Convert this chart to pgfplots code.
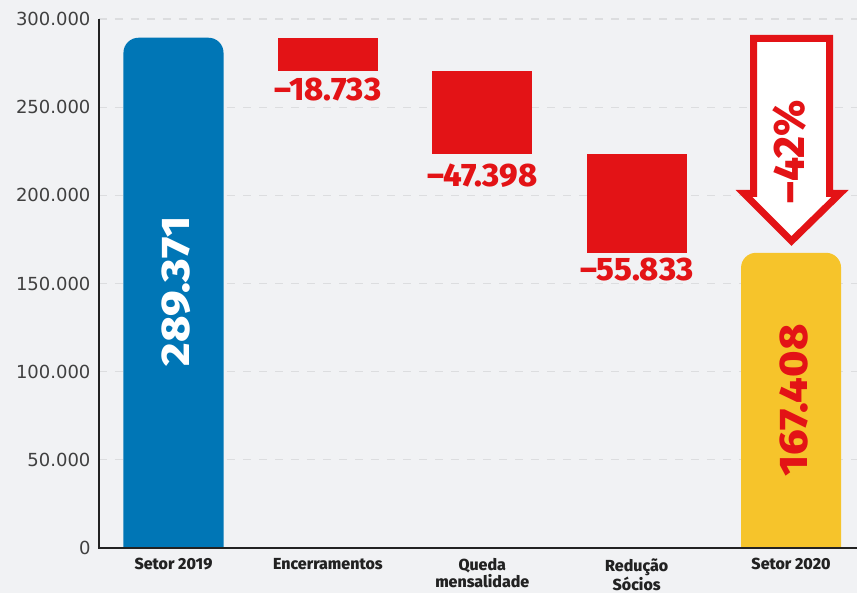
\documentclass[border=0pt]{standalone}
\usepackage{pgfplots}
\pgfplotsset{compat=1.18}
\usepackage{graphicx}
\usepackage{fontspec}
\setmainfont{Fira Sans}
\newfontfamily\heavy{Fira Sans ExtraBold}
\newfontfamily\tickfont{DejaVu Sans}
\definecolor{bg}{HTML}{F1F2F4}
\definecolor{wblue}{HTML}{0076B6}
\definecolor{wred}{HTML}{E31316}
\definecolor{wyellow}{HTML}{F6C42B}
\definecolor{gridc}{HTML}{DCDDDF}
\definecolor{axisc}{HTML}{222222}
\definecolor{tickc}{HTML}{404040}
\begin{document}
\begin{tikzpicture}[x=1pt,y=1pt]
\useasboundingbox (-99,-45) rectangle (758,548);
\fill[bg] (-99,-45) rectangle (758,548);
\begin{scope}
\clip (-99,-45) rectangle (758,548);
\begin{axis}[
  at={(0,0)}, anchor=south west,
  scale only axis, width=758pt, height=529pt,
  xmin=-0.4825, xmax=4.427, ymin=0, ymax=300000,
  ytick={0,50000,100000,150000,200000,250000,300000},
  xtick={0,1,2,3,4},
  xticklabels={Setor 2019, Encerramentos, {Queda\\mensalidade}, {Redução\\Sócios}, Setor 2020},
  xticklabel style={align=center, font=\heavy\fontsize{16}{15.5}\selectfont, text=axisc, yshift=-7pt},
  yticklabel style={font=\tickfont\fontsize{18}{20}\selectfont, text=tickc, xshift=-5pt},
  /pgf/number format/fixed,
  /pgf/number format/precision=0,
  /pgf/number format/1000 sep={.},
  /pgf/number format/assume math mode=true,
  scaled y ticks=false,
  major tick length=0pt,
  axis line style={draw=none},
  ymajorgrids,
  grid style={gridc, line width=1.2pt, dash pattern=on 8pt off 8pt},
]
% Setor 2019 (rounded top; bottom hidden below the axis)
\addplot[fill=wblue, draw=none, rounded corners=15pt] coordinates {(-0.324,-20000) (-0.324,289371) (0.324,289371) (0.324,-20000)} -- cycle;
% floating red bars
\addplot[fill=wred, draw=none] coordinates {(0.676,270638) (1.324,270638) (1.324,289371) (0.676,289371)} -- cycle;
\addplot[fill=wred, draw=none] coordinates {(1.676,223240) (2.324,223240) (2.324,270638) (1.676,270638)} -- cycle;
\addplot[fill=wred, draw=none] coordinates {(2.676,167407) (3.324,167407) (3.324,223240) (2.676,223240)} -- cycle;
% Setor 2020
\addplot[fill=wyellow, draw=none, rounded corners=15pt] coordinates {(3.676,-20000) (3.676,167408) (4.324,167408) (4.324,-20000)} -- cycle;
% labels
\node[rotate=90, text=white, font=\heavy\fontsize{40}{40}\selectfont] at (axis cs:0.02,145500) {\scalebox{1.12}[1]{289.371}};
\node[rotate=90, text=wred, font=\heavy\fontsize{40}{40}\selectfont] at (axis cs:4.02,83704) {\scalebox{1.12}[1]{167.408}};
\node[text=wred, font=\heavy\fontsize{32.5}{33}\selectfont] at (axis cs:1,259730) {–18.733};
\node[text=wred, font=\heavy\fontsize{32.5}{33}\selectfont] at (axis cs:2,210960) {–47.398};
\node[text=wred, font=\heavy\fontsize{32.5}{33}\selectfont] at (axis cs:3,157650) {–55.833};
\end{axis}
\draw[axisc, line width=2.2pt] (0,529) -- (0,0) -- (758,0);
\draw[wred, line width=7pt, fill=white, line join=miter] (654.5,509.5) -- (730.5,509.5) -- (730.5,354.5) -- (741,354.5) -- (692.5,307) -- (645,354.5) -- (654.5,354.5) -- cycle;
\node[rotate=90, text=wred, font=\heavy\fontsize{44}{44}\selectfont] at (691,396) {\scalebox{0.95}[1]{–42\%}};
\end{scope}
\end{tikzpicture}
\end{document}
